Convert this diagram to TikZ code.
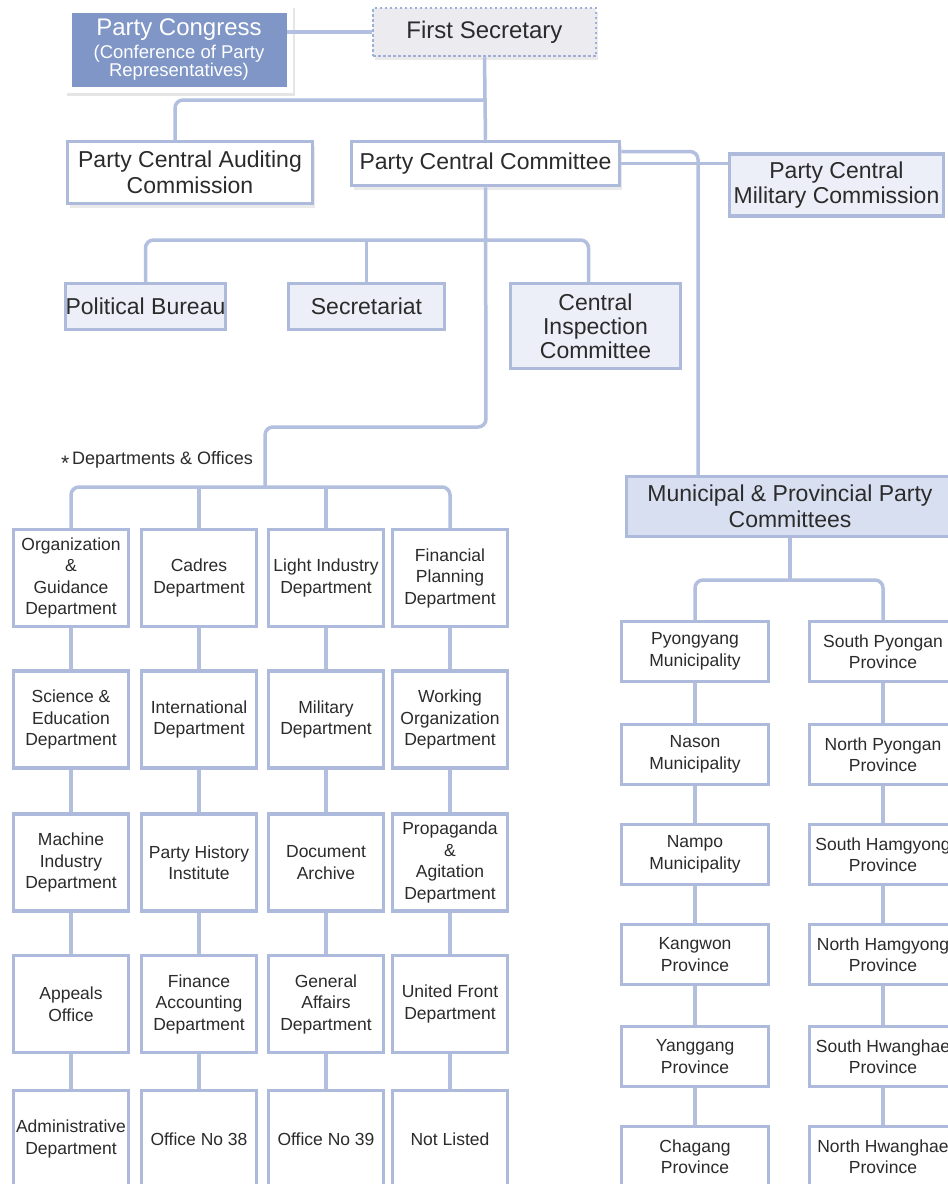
\documentclass[tikz,border=0pt]{standalone}
\usepackage{fontspec}
\setmainfont{Liberation Sans}
\usetikzlibrary{shadows,calc}

\definecolor{linkblue}{HTML}{B3BFDF}
\definecolor{edgeblue}{HTML}{ADBADC}
\definecolor{paleblue}{HTML}{ECEFF8}
\definecolor{midblue}{HTML}{D8DFF0}
\definecolor{deepblue}{HTML}{7F96C6}
\definecolor{greyfill}{HTML}{ECECF0}
\definecolor{dotblue}{HTML}{9FB0D8}
\definecolor{ink}{HTML}{2B2B2B}

\tikzset{
  conn/.style={draw=linkblue, line width=3.5pt},
  box/.style={draw=edgeblue, line width=3.5pt, rectangle, inner sep=0pt,
              align=center, text=ink},
  bigtxt/.style={font=\fontsize{23}{25.5}\selectfont},
  deptxt/.style={font=\fontsize{17.5}{21.5}\selectfont},
  softshadow/.style={drop shadow={opacity=0.16, shadow xshift=2pt, shadow yshift=-4pt}},
  topbox/.style={box, bigtxt, fill=white, softshadow},
  palebox/.style={box, bigtxt, fill=paleblue},
  dept/.style={box, deptxt, fill=white, minimum width=115pt, minimum height=97pt},
  prov/.style={box, deptxt, fill=white, minimum width=147pt, minimum height=60pt},
}

\begin{document}
\begin{tikzpicture}[x=1pt, y=-1pt]
\useasboundingbox[fill=white] (0,0) rectangle (948,1184);

% ---------- top level ----------
\node[fill=white, minimum width=228pt, minimum height=88pt, inner sep=0pt,
      drop shadow={opacity=0.2, shadow xshift=2pt, shadow yshift=-3pt}]
  (pcard) at (179,49) {};
\node[rectangle, fill=deepblue, draw=white, line width=0.8pt, inner sep=0pt,
      minimum width=216pt, minimum height=75pt, align=center, text=white,
      font=\fontsize{18.5}{18}\selectfont]
  (pc) at (179,49.5)
  {\raisebox{0pt}{\fontsize{24}{24}\selectfont Party Congress}\\[3pt]
   (Conference of Party\\
   Representatives)};

\node[rectangle, fill=greyfill, draw=dotblue, line width=2.5pt,
      dash pattern=on 2.5pt off 2.5pt, inner sep=0pt, text=ink,
      font=\fontsize{24}{26}\selectfont,
      minimum width=223pt, minimum height=48pt, softshadow]
  (fs) at (484.5,32) {\raisebox{-2pt}{First Secretary}};

\node[topbox, minimum width=245pt, minimum height=62pt]
  (pcac) at (190,172.5) {Party Central Auditing\\Commission};
\node[topbox, minimum width=268pt, minimum height=44pt]
  (pcc) at (485.5,163.5) {Party Central Committee};
\node[palebox, minimum width=214pt, minimum height=62pt]
  (pcmc) at (836.5,185) {Party Central\\Military Commission};

% ---------- central bodies ----------
\node[palebox, minimum width=156pt, minimum height=46pt]
  (pb) at (145.5,306.5) {Political Bureau};
\node[palebox, minimum width=156pt, minimum height=46pt]
  (sec) at (366.5,306.5) {Secretariat};
\node[palebox, minimum width=170pt, minimum height=85pt, font=\fontsize{23}{24}\selectfont]
  (cic) at (595.5,326) {Central\\Inspection\\Committee};

\node[text=ink, font=\fontsize{18}{20}\selectfont, inner sep=0pt]
  (deplabel) at (157,461) {\raisebox{-0.55ex}{\fontsize{21}{21}\selectfont *}\,Departments \& Offices};

% ---------- departments & offices ----------
\node[dept] (d11) at (71,578)  {Organization\\\&\\Guidance\\Department};
\node[dept] (d12) at (199,578) {Cadres\\Department};
\node[dept] (d13) at (326,578) {Light Industry\\Department};
\node[dept] (d14) at (450,578) {Financial\\Planning\\Department};

\node[dept] (d21) at (71,719.5)  {Science \&\\Education\\Department};
\node[dept] (d22) at (199,719.5) {International\\Department};
\node[dept] (d23) at (326,719.5) {Military\\Department};
\node[dept] (d24) at (450,719.5) {Working\\Organization\\Department};

\node[dept] (d31) at (71,862.5)  {Machine\\Industry\\Department};
\node[dept] (d32) at (199,862.5) {Party History\\Institute};
\node[dept] (d33) at (326,862.5) {Document\\Archive};
\node[dept] (d34) at (450,862.5) {Propaganda\\\&\\Agitation\\Department};

\node[dept] (d41) at (71,1004)  {Appeals\\Office};
\node[dept] (d42) at (199,1004) {Finance\\Accounting\\Department};
\node[dept] (d43) at (326,1004) {General\\Affairs\\Department};
\node[dept] (d44) at (450,1004) {United Front\\Department};

\node[dept] (d51) at (71,1139)  {Administrative\\Department};
\node[dept] (d52) at (199,1139) {Office No 38};
\node[dept] (d53) at (326,1139) {Office No 39};
\node[dept] (d54) at (450,1139) {Not Listed};

% ---------- municipal & provincial committees ----------
\node[box, bigtxt, fill=midblue, minimum width=327pt, minimum height=60pt]
  (mun) at (790,506.5) {Municipal \& Provincial Party\\Committees};

\node[prov] (p11) at (695,651.5)  {Pyongyang\\Municipality};
\node[prov] (p21) at (695,754.5)  {Nason\\Municipality};
\node[prov] (p31) at (695,854.5)  {Nampo\\Municipality};
\node[prov] (p41) at (695,954.5)  {Kangwon\\Province};
\node[prov] (p51) at (695,1056.5) {Yanggang\\Province};
\node[prov] (p61) at (695,1156.5) {Chagang\\Province};

\node[prov] (p12) at (883,651.5)  {South Pyongan\\Province};
\node[prov] (p22) at (883,754.5)  {North Pyongan\\Province};
\node[prov] (p32) at (883,854.5)  {South Hamgyong\\Province};
\node[prov] (p42) at (883,954.5)  {North Hamgyong\\Province};
\node[prov] (p52) at (883,1056.5) {South Hwanghae\\Province};
\node[prov] (p62) at (883,1156.5) {North Hwanghae\\Province};

% ---------- junction points ----------
\coordinate (j1) at (486,100);
\coordinate (j2) at (486,240);
\coordinate (bend1) at (486,427);
\coordinate (bend2) at (265,427);
\coordinate (hub) at (265,487);
\coordinate (mj) at (790,580);

% ---------- connectors ----------
\draw[conn] (fs.west) -- (fs.west -| pc.east);
\draw[conn] (fs.south) -- (pcc.north);
\draw[conn, rounded corners=8pt] (j1) -| ([xshift=-15pt]pcac.north);
\draw[conn] (pcc.east) -- (pcc.east -| pcmc.west);
\draw[conn, rounded corners=8pt] ([yshift=12pt]pcc.east) -| ([xshift=-92pt]mun.north);

\draw[conn, rounded corners=8pt] (pb.north) |- (j2) -| ([xshift=-7pt]cic.north);
\draw[conn] (sec.north) -- (sec.north |- j2);
\draw[conn, rounded corners=8pt] (pcc.south) -- (bend1) -- (bend2) -- (hub);

\draw[conn, rounded corners=8pt] (d11.north) |- (hub) -| (d14.north);
\draw[conn] (d12.north) -- (d12.north |- hub);
\draw[conn] (d13.north) -- (d13.north |- hub);

\foreach \c in {1,...,4}{
  \foreach \r/\n in {1/2,2/3,3/4,4/5}{
    \draw[conn] (d\r\c.south) -- (d\n\c.north);
  }
}

\draw[conn] (mun.south) -- (mj);
\draw[conn, rounded corners=8pt] (p11.north) |- (mj) -| (p12.north);
\foreach \c in {1,2}{
  \foreach \r/\n in {1/2,2/3,3/4,4/5,5/6}{
    \draw[conn] (p\r\c.south) -- (p\n\c.north);
  }
}
\end{tikzpicture}
\end{document}
